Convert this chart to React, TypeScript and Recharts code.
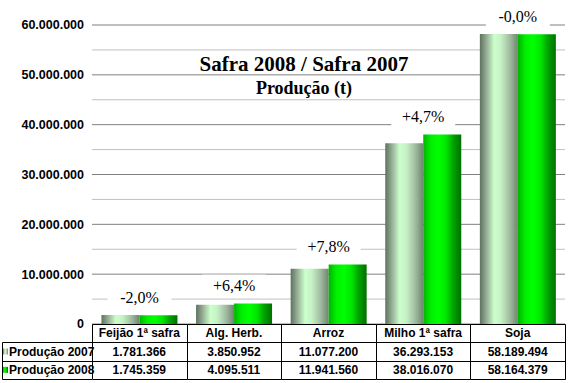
import { BarChart, Bar, XAxis, YAxis, CartesianGrid, LabelList } from 'recharts'

const categories = ['Feijão 1ª safra', 'Alg. Herb.', 'Arroz', 'Milho 1ª safra', 'Soja']
const prod2007 = [1781366, 3850952, 11077200, 36293153, 58189494]
const prod2008 = [1745359, 4095511, 11941560, 38016070, 58164379]
const changeLabels = ['-2,0%', '+6,4%', '+7,8%', '+4,7%', '-0,0%']
const seriesNames = ['Produção 2007', 'Produção 2008']
const majorTicks = [0, 10000000, 20000000, 30000000, 40000000, 50000000, 60000000]
const minorTicks = [5000000, 15000000, 25000000, 35000000, 45000000, 55000000]

const data = categories.map((name, i) => ({
  name,
  p2007: prod2007[i],
  p2008: prod2008[i],
  change: changeLabels[i],
}))

// layout
const W = 569
const H = 383
const margin = { top: 25, right: 4, bottom: 4, left: 0 }
const yAxisW = 92
const tableH = 55
const plotLeft = margin.left + yAxisW
const plotRight = W - margin.right
const bandW = (plotRight - plotLeft) / categories.length
const tableTop = H - margin.bottom - tableH
const rowH = tableH / 3

const sans = 'Arial, "Liberation Sans", sans-serif'
const serif = '"Times New Roman", "Liberation Serif", serif'

const fmt = (v: number) => String(v).replace(/\B(?=(\d{3})+(?!\d))/g, '.')
const px = (v: number) => Math.round(v) + 0.5

function LegendColumn() {
  const r1 = px(tableTop + rowH)
  const r2 = px(tableTop + 2 * rowH)
  const r3 = px(tableTop + 3 * rowH)
  const l = 2.5
  const fills = ['url(#g2007)', 'url(#g2008)']
  return (
    <g>
      <line x1={l} x2={plotLeft} y1={r1} y2={r1} stroke="#000" />
      <line x1={l} x2={plotLeft} y1={r2} y2={r2} stroke="#000" />
      <line x1={l} x2={plotLeft} y1={r3} y2={r3} stroke="#000" />
      <line x1={l} x2={l} y1={r1} y2={r3} stroke="#000" />
      {seriesNames.map((s, k) => {
        const cy = tableTop + rowH * (k + 1.5)
        return (
          <g key={s}>
            <rect x={3} y={cy - 3} width={5} height={6} fill={fills[k]} />
            <text x={9} y={cy} dy="0.36em" fontFamily={sans} fontSize={12} fontWeight="bold" fill="#000">
              {s}
            </text>
          </g>
        )
      })}
    </g>
  )
}

function TableTick(props: any) {
  const { x, index } = props
  const left = px(x - bandW / 2)
  const right = px(x + bandW / 2)
  const rows = [0, 1, 2, 3].map((k) => px(tableTop + rowH * k))
  const last = index === categories.length - 1
  const cell = (k: number) => tableTop + rowH * (k + 0.5)
  return (
    <g>
      {rows.map((ry) => (
        <line key={ry} x1={left} x2={right} y1={ry} y2={ry} stroke="#000" />
      ))}
      <line x1={left} x2={left} y1={rows[0]} y2={rows[3]} stroke="#000" />
      {last && <line x1={right} x2={right} y1={rows[0]} y2={rows[3]} stroke="#000" />}
      <text x={x} y={cell(0)} dy="0.36em" textAnchor="middle" fontFamily={sans} fontSize={12} fontWeight="bold" fill="#000">
        {categories[index]}
      </text>
      <text x={x} y={cell(1)} dy="0.36em" textAnchor="middle" fontFamily={sans} fontSize={12} fontWeight="bold" fill="#000">
        {fmt(prod2007[index])}
      </text>
      <text x={x} y={cell(2)} dy="0.36em" textAnchor="middle" fontFamily={sans} fontSize={12} fontWeight="bold" fill="#000">
        {fmt(prod2008[index])}
      </text>
      {index === 0 && <LegendColumn />}
    </g>
  )
}

function ChangeLabel(props: any) {
  const { x, y, value } = props
  const cy = y - 18
  return (
    <g>
      <rect x={x - 32} y={cy - 11} width={64} height={22} fill="#fff" />
      <text x={x} y={cy} dy="0.34em" textAnchor="middle" fontFamily={serif} fontSize={16} fill="#000">
        {value}
      </text>
    </g>
  )
}

export default function App() {
  return (
    <div style={{ position: 'absolute', left: 0, top: 0, width: W, height: H, background: '#fff' }}>
      <BarChart width={W} height={H} data={data} margin={margin} barCategoryGap="10%" barGap={0}>
        <defs>
          <linearGradient id="g2007" x1="0" y1="0" x2="1" y2="0">
            <stop offset="0%" stopColor="#5e725e" />
            <stop offset="15%" stopColor="#8ea58e" />
            <stop offset="38%" stopColor="#ccffcc" />
            <stop offset="55%" stopColor="#c6f2c6" />
            <stop offset="80%" stopColor="#9fb99f" />
            <stop offset="100%" stopColor="#6e846e" />
          </linearGradient>
          <linearGradient id="g2008" x1="0" y1="0" x2="1" y2="0">
            <stop offset="0%" stopColor="#00b400" />
            <stop offset="20%" stopColor="#00f000" />
            <stop offset="40%" stopColor="#00ff00" />
            <stop offset="60%" stopColor="#00e600" />
            <stop offset="80%" stopColor="#00a000" />
            <stop offset="100%" stopColor="#007000" />
          </linearGradient>
        </defs>
        <CartesianGrid vertical={false} horizontalValues={minorTicks} stroke="#c0c0c0" />
        <CartesianGrid vertical={false} horizontalValues={majorTicks} stroke="#808080" />
        <XAxis
          dataKey="name"
          height={tableH}
          axisLine={false}
          tickLine={false}
          interval={0}
          tick={<TableTick />}
        />
        <YAxis
          width={yAxisW}
          domain={[0, 60000000]}
          ticks={majorTicks}
          axisLine={false}
          tickLine={false}
          tickFormatter={fmt}
          tick={{ fill: '#000', fontSize: 12.5, fontWeight: 'bold', fontFamily: sans }}
        />
        <Bar dataKey="p2007" fill="url(#g2007)" isAnimationActive={false} />
        <Bar dataKey="p2008" fill="url(#g2008)" isAnimationActive={false}>
          <LabelList dataKey="change" content={ChangeLabel} />
        </Bar>
      </BarChart>
      <svg width={W} height={110} style={{ position: 'absolute', left: 0, top: 0, pointerEvents: 'none' }}>
        <text x={304} y={71} textAnchor="middle" fontFamily={serif} fontSize={21} fontWeight="bold" fill="#000">
          Safra 2008 / Safra 2007
        </text>
        <text x={304} y={94} textAnchor="middle" fontFamily={serif} fontSize={18} fontWeight="bold" fill="#000">
          Produção (t)
        </text>
      </svg>
    </div>
  )
}
